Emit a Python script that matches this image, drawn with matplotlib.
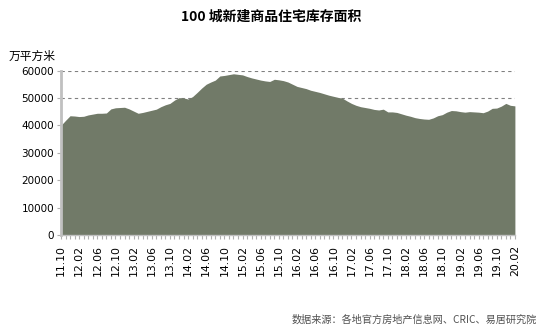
import matplotlib
matplotlib.use("Agg")
import matplotlib.pyplot as plt
import numpy as np

plt.rcParams['font.family'] = ['Noto Sans CJK SC', 'DejaVu Sans']

# Monthly inventory, 2011.10 - 2020.02 (10k sq.m)
months = []
y, m = 2011, 10
while (y, m) <= (2020, 2):
    months.append(f"{y % 100:02d}.{m:02d}")
    m += 1
    if m > 12:
        y, m = y + 1, 1

inventory = [
    40000, 41800, 43500, 43400, 43200, 43300, 43800, 44100, 44400, 44400,
    44500, 46000, 46400, 46500, 46600, 46000, 45200, 44400, 44700, 45100,
    45500, 45900, 46800, 47500, 48000, 49200, 50100, 50000, 49600, 50500,
    52000, 53600, 55000, 55800, 56500, 58000, 58200, 58500, 58800, 58600,
    58400, 57800, 57300, 56900, 56500, 56200, 56000, 56800, 56600, 56300,
    55800, 55000, 54200, 53800, 53400, 52800, 52400, 52000, 51500, 51000,
    50600, 50200, 49900, 48900, 48000, 47300, 46800, 46500, 46200, 45800,
    45600, 45900, 44900, 44900, 44700, 44200, 43700, 43300, 42800, 42500,
    42300, 42200, 42700, 43500, 43900, 44800, 45400, 45300, 45000, 44800,
    45000, 44900, 44800, 44600, 45200, 46200, 46300, 47000, 48000, 47300,
    47100,
]

yticks = [0, 10000, 20000, 30000, 40000, 50000, 60000]
title = "100 城新建商品住宅库存面积"
unit = "万平方米"
source = "数据来源：各地官方房地产信息网、CRIC、易居研究院"

fig = plt.figure(figsize=(5.42, 3.29), dpi=100)
ax = fig.add_axes([0.1125, 0.2857, 0.8375, 0.5])

x = np.arange(len(inventory))
ax.fill_between(x, inventory, 0, color="#717a68", linewidth=0, zorder=2)

ax.set_xlim(0, len(inventory) - 1)
ax.set_ylim(0, 60000)
ax.set_yticks(yticks)
ax.set_yticklabels([str(v) for v in yticks], fontsize=7.5, family="DejaVu Sans")
ax.yaxis.grid(True, linestyle=(0, (3, 3)), color="#808080", linewidth=0.8, zorder=1)
ax.set_axisbelow(True)

major = list(range(0, len(inventory), 4))
ax.set_xticks(major)
ax.set_xticklabels([months[i] for i in major], rotation=90, fontsize=7.8, family="DejaVu Sans")
ax.set_xticks(x, minor=True)
ax.tick_params(axis='x', which='both', length=3, color="#b0b0b0", width=0.8, pad=4)
ax.tick_params(axis='y', length=3, color="#b0b0b0", width=0.8, pad=2)

for side in ("top", "right"):
    ax.spines[side].set_visible(False)
ax.spines["left"].set_color("#c0c0c0")
ax.spines["left"].set_linewidth(2)
ax.spines["bottom"].set_color("#c0c0c0")
ax.spines["bottom"].set_linewidth(1)

fig.text(0.5, 0.948, title, ha="center", va="center", fontsize=10, fontweight="bold")
fig.text(0.015, 0.828, unit, ha="left", va="center", fontsize=8.5)
fig.text(0.99, 0.028, source, ha="right", va="center", fontsize=7.3, color="#505050")

fig.savefig("out.png", dpi=100)
